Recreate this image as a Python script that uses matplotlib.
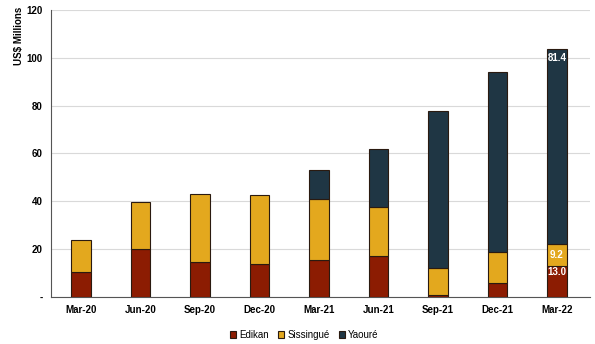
import numpy as np
import matplotlib.pyplot as plt

quarters = ['Mar-20', 'Jun-20', 'Sep-20', 'Dec-20', 'Mar-21', 'Jun-21', 'Sep-21', 'Dec-21', 'Mar-22']
edikan = [10.5, 20.0, 14.6, 13.8, 15.5, 17.1, 0.8, 5.9, 13.0]
sissingue = [13.3, 19.7, 28.4, 29.0, 25.5, 20.5, 11.3, 12.9, 9.2]
yaoure = [0.0, 0.0, 0.0, 0.0, 12.0, 24.3, 65.7, 75.2, 81.4]
yticks = [0, 20, 40, 60, 80, 100, 120]
ytick_labels = ['-', '20', '40', '60', '80', '100', '120']

plt.rcParams['font.family'] = ['Liberation Sans', 'DejaVu Sans']

fig = plt.figure(figsize=(5.95, 3.44), dpi=100)
ax = fig.add_axes([0.086, 0.137, 0.905, 0.834])

x = np.arange(len(quarters))
w = 0.33
ed = np.array(edikan)
si = np.array(sissingue)
ya = np.array(yaoure)
kw = dict(width=w, edgecolor='#2a1a10', linewidth=0.8, zorder=3)
ax.bar(x, ed, color='#8c1c02', label='Edikan', **kw)
ax.bar(x, si, bottom=ed, color='#e3a81e', label='Sissingué', **kw)
m = ya > 0
ax.bar(x[m], ya[m], bottom=(ed + si)[m], color='#1f3644', label='Yaouré', **kw)

# value labels on the last bar
i = len(quarters) - 1
tk = dict(ha='center', va='center', color='white', fontsize=7, fontweight='bold', zorder=4)
ax.text(x[i], ed[i] - 2.5, f'{ed[i]:.1f}', **tk)
ax.text(x[i], ed[i] + si[i] / 2, f'{si[i]:.1f}', **tk)
ax.text(x[i], ed[i] + si[i] + ya[i] - 3.5, f'{ya[i]:.1f}', **tk)

ax.set_ylim(0, 120)
ax.set_xlim(-0.5, len(quarters) - 0.45)
ax.set_yticks(yticks)
ax.set_yticklabels(ytick_labels)
ax.set_xticks(x)
ax.set_xticklabels(quarters)
ax.tick_params(axis='both', labelsize=7, length=0, pad=6)
for lab in ax.get_xticklabels() + ax.get_yticklabels():
    lab.set_fontweight('bold')
ax.yaxis.grid(True, color='#d9d9d9', linewidth=0.8, zorder=0)
for s in ['top', 'right']:
    ax.spines[s].set_visible(False)
ax.spines['left'].set_color('#555555')
ax.spines['bottom'].set_color('#555555')
fig.text(0.032, 0.895, 'US$ Millions', rotation=90, ha='center', va='center',
         fontsize=7, fontweight='bold')

ax.legend(loc='upper center', bbox_to_anchor=(0.47, -0.085), ncol=3, frameon=False,
          fontsize=7, handlelength=0.6, handleheight=0.6, handletextpad=0.3, columnspacing=1.0)

fig.savefig('out.png', dpi=100)
